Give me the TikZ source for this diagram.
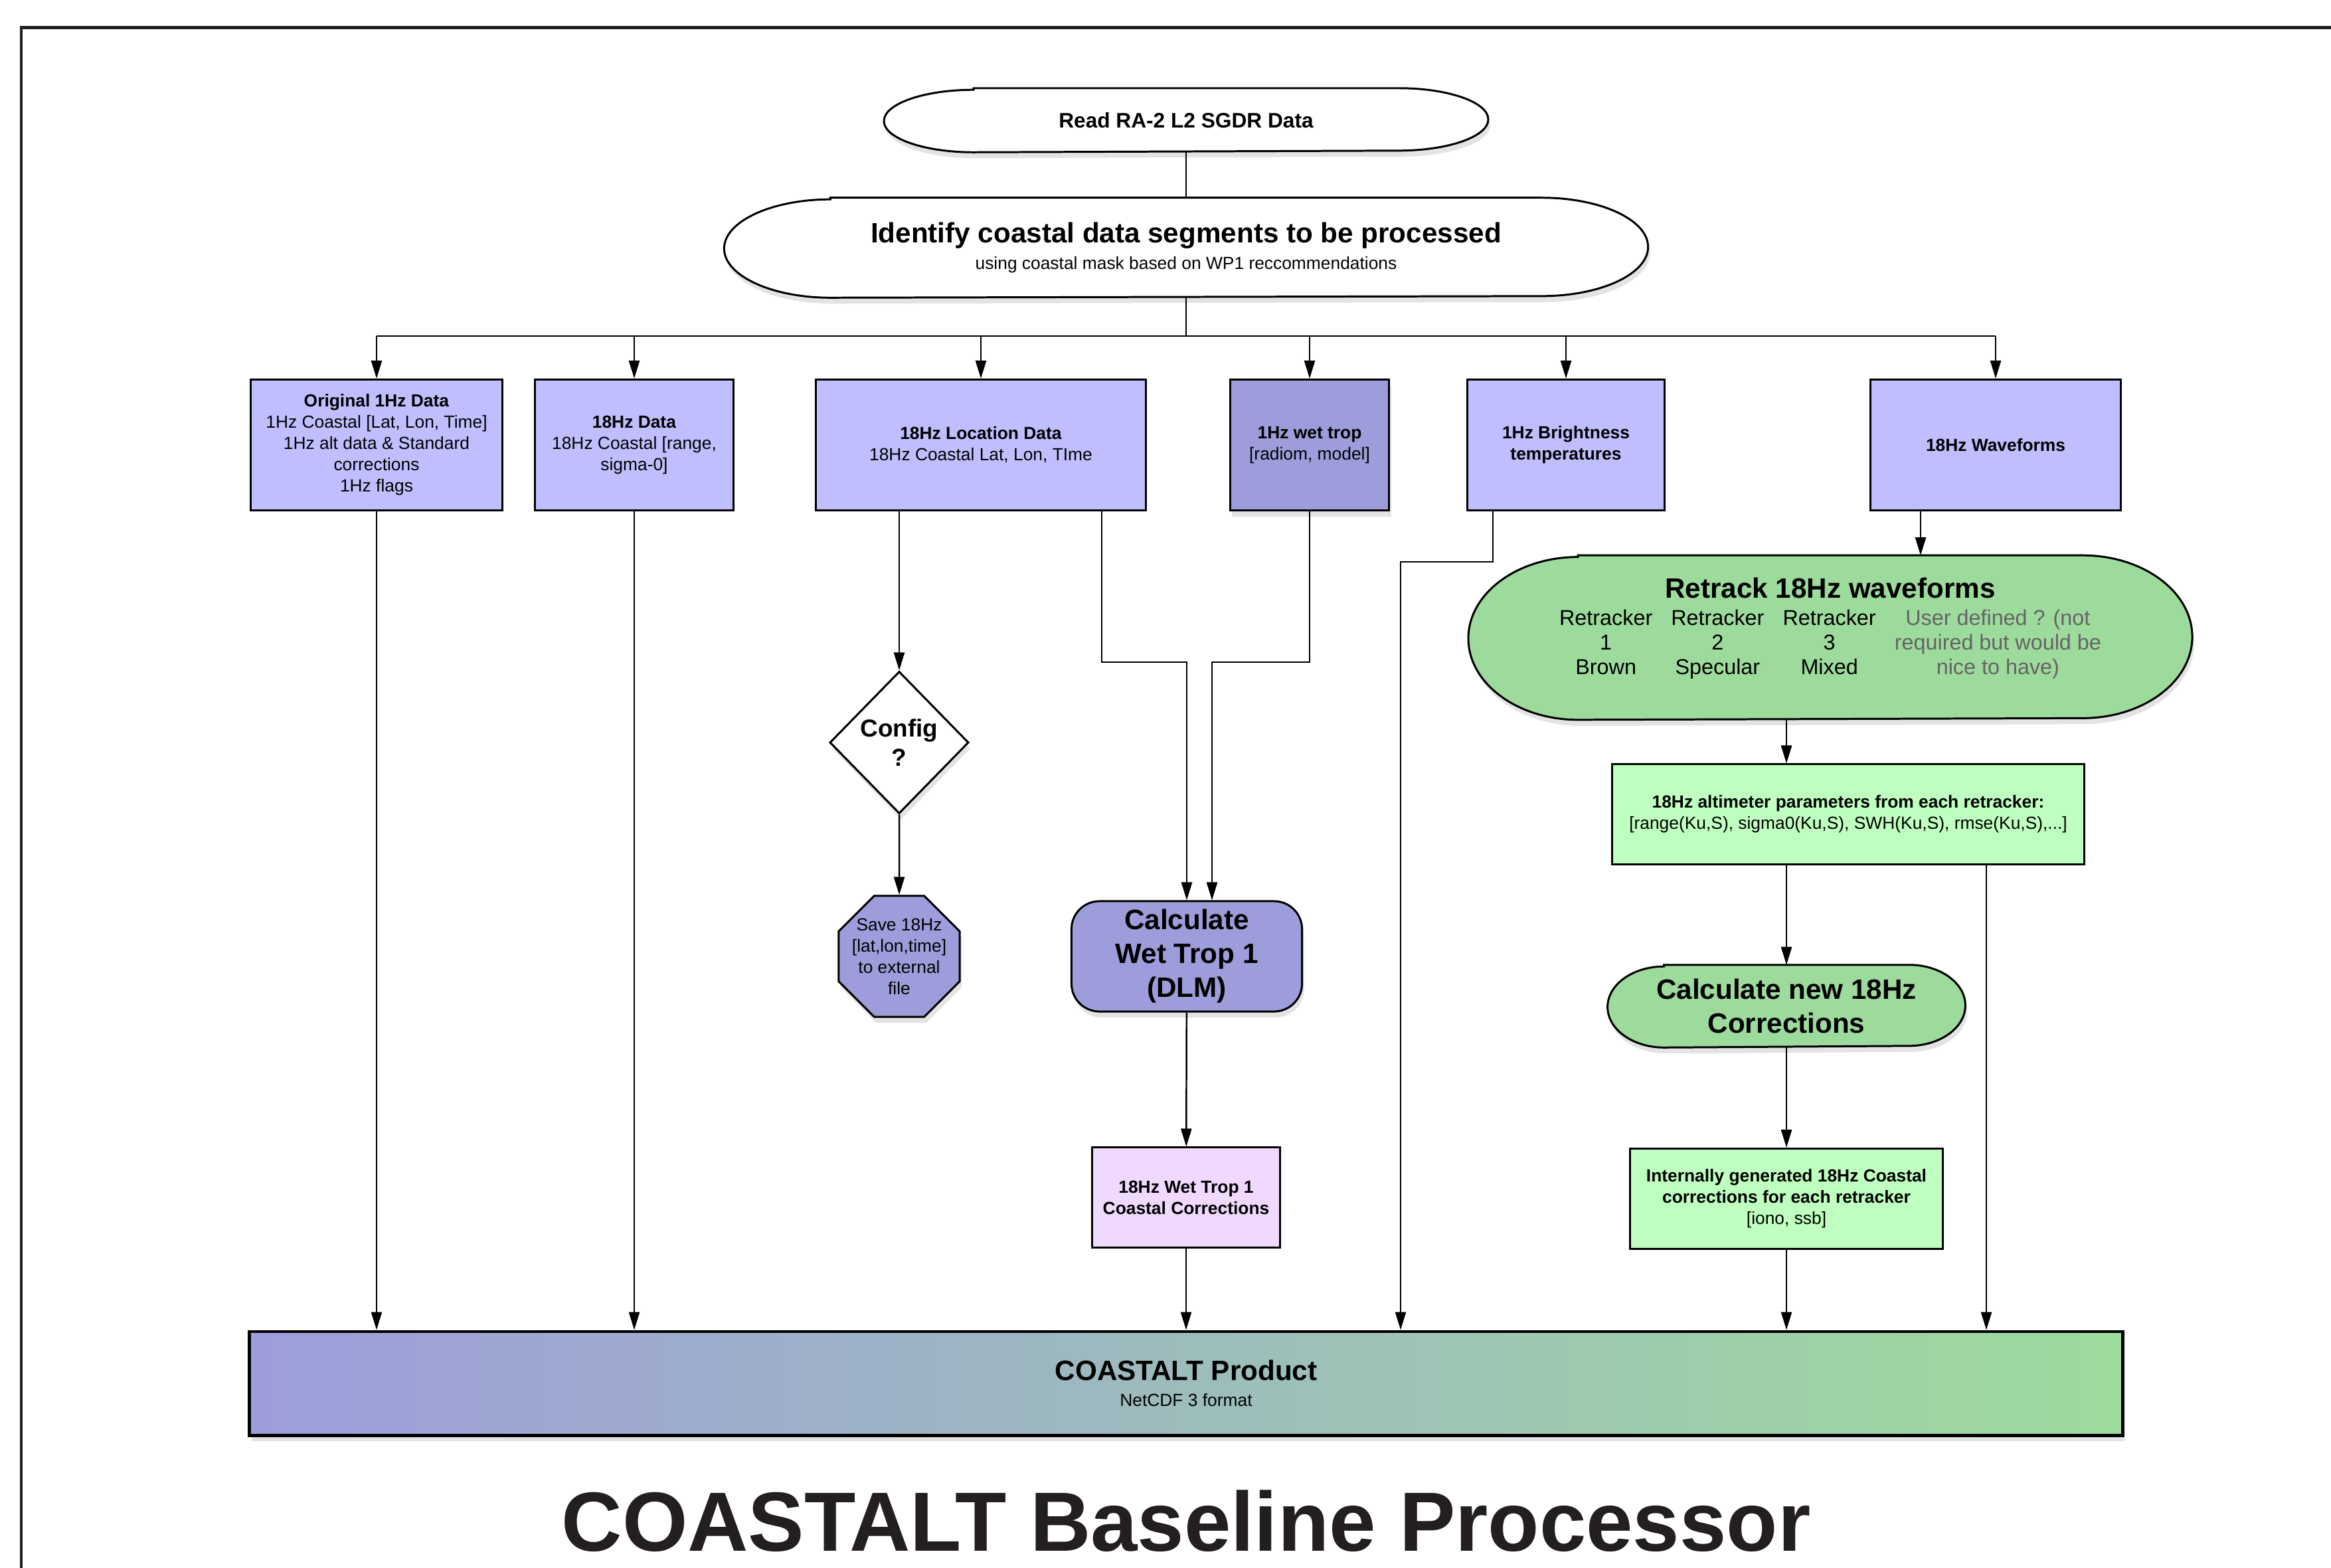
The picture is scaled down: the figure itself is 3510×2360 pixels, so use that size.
\documentclass[tikz,border=0pt]{standalone}
\usepackage{fontspec}
\setmainfont{Liberation Sans}
\usetikzlibrary{positioning}
\usetikzlibrary{shapes.geometric,arrows.meta,shadows,backgrounds}
\definecolor{lav}{RGB}{191,191,255}
\definecolor{pur}{RGB}{157,157,219}
\definecolor{grn}{RGB}{157,219,157}
\definecolor{lgrn}{RGB}{191,255,191}
\definecolor{lpink}{RGB}{240,217,255}
\definecolor{ink}{RGB}{35,31,32}
\definecolor{note}{RGB}{100,100,100}

\begin{document}
\begin{tikzpicture}[x=0.01cm,y=-0.01cm,line width=0.7pt,
  arr/.style={-{Triangle[length=0.27cm,width=0.16cm]}},
  box/.style={draw,line width=0.85pt,fill=lav,align=center,inner sep=0pt,font=\fontsize{7.5}{9.1}\selectfont},
  capnode/.style={align=center,inner sep=0pt},
  shd/.style={drop shadow={shadow xshift=0.03cm,shadow yshift=-0.09cm,opacity=0.22}}]
\useasboundingbox (0,0) rectangle (3510,2360);
% page frame
\draw[ink,line width=1.42pt] (32,2400) -- (32,41) -- (3560,41);

\path
(1786,181) node [capnode,minimum width=9.07cm,minimum height=0.94cm,font=\fontsize{9}{11}\selectfont\bfseries](read) {Read RA-2 L2 SGDR Data}
(1786,373) node [capnode,minimum width=13.88cm,minimum height=1.48cm,font=\fontsize{7.5}{11.2}\selectfont](ident) {{\fontsize{12}{14}\selectfont\bfseries Identify coastal data segments to be processed}\\using coastal mask based on WP1 reccommendations};

\path
(567,670) node [box,minimum width=3.79cm,minimum height=1.97cm](orig) {\textbf{Original 1Hz Data}\\1Hz Coastal [Lat, Lon, Time]\\1Hz alt data \& Standard\\corrections\\1Hz flags}
(955,670) node [box,minimum width=2.98cm,minimum height=1.97cm](hz18) {\textbf{18Hz Data}\\18Hz Coastal [range,\\sigma-0]}
(1477,670) node [box,minimum width=4.97cm,minimum height=1.97cm](loc) {\textbf{18Hz Location Data}\\18Hz Coastal Lat, Lon, TIme}
(1972,670) node [box,fill=pur,shd,minimum width=2.39cm,minimum height=1.97cm](wet) {\textbf{1Hz wet trop}\\{[radiom, model]}}
(2358,670) node [box,minimum width=2.97cm,minimum height=1.97cm](bright) {\textbf{1Hz Brightness}\\\textbf{temperatures}}
(3005,670) node [box,minimum width=3.77cm,minimum height=1.97cm](wave) {\textbf{18Hz Waveforms}};

\path
(1354,1118) node [diamond,draw,line width=0.85pt,fill=white,shd,minimum width=2.09cm,minimum height=2.14cm,inner sep=0pt,align=center,font=\fontsize{10.5}{12.7}\selectfont\bfseries](config) {Config\\?}
(1354,1440) node [regular polygon,regular polygon sides=8,draw,line width=0.85pt,fill=pur,shd,minimum size=1.97cm,inner sep=-4pt,align=center,font=\fontsize{7.5}{9.1}\selectfont](save) {Save 18Hz\\{[lat,lon,time]}\\to external\\file}
(1787,1440) node [box,fill=pur,shd,rounded corners=0.42cm,minimum width=3.47cm,minimum height=1.66cm,font=\fontsize{12}{14.5}\selectfont\bfseries](dlm) {Calculate\\Wet Trop 1\\(DLM)}
(1786,1803) node [box,fill=lpink,minimum width=2.82cm,minimum height=1.5cm,font=\fontsize{7.5}{9.1}\selectfont\bfseries](wtc) {18Hz Wet Trop 1\\Coastal Corrections};

\path
(2756,960) node [capnode,minimum width=10.87cm,minimum height=2.45cm,font=\fontsize{9.2}{11.8}\selectfont](retr) {{\fontsize{12}{14}\selectfont\bfseries Retrack 18Hz waveforms}\\
  {\fontsize{9.2}{10.5}\selectfont\begin{tabular}[t]{@{}c@{\hspace{0.28cm}}c@{\hspace{0.28cm}}c@{\hspace{0.28cm}}c@{}}
  Retracker&Retracker&Retracker&\textcolor{note}{User defined ? (not}\\
  1&2&3&\textcolor{note}{required but would be}\\
  Brown&Specular&Mixed&\textcolor{note}{nice to have)}\\[0.24cm]
  \end{tabular}}}
(2783,1226) node [box,fill=lgrn,minimum width=7.1cm,minimum height=1.5cm](par) {\textbf{18Hz altimeter parameters from each retracker:}\\{[range(Ku,S), sigma0(Ku,S), SWH(Ku,S), rmse(Ku,S),...]}}
(2690,1515) node [capnode,minimum width=5.36cm,minimum height=1.22cm,font=\fontsize{12}{14.5}\selectfont\bfseries](corr) {Calculate new 18Hz\\Corrections}
(2690,1805) node [box,fill=lgrn,minimum width=4.71cm,minimum height=1.51cm](intl) {\textbf{Internally generated 18Hz Coastal}\\\textbf{corrections for each retracker}\\{[iono, ssb]}};

\path
(1786,2083) node [box,line width=1.4pt,left color=pur,right color=grn,shd,minimum width=28.19cm,minimum height=1.56cm,font=\fontsize{7.5}{11.2}\selectfont](prod) {{\fontsize{12}{14}\selectfont\bfseries COASTALT Product}\\NetCDF 3 format}
(1786,2335) node [anchor=base,inner sep=0pt,text=ink,font=\fontsize{36}{40}\selectfont\bfseries](ttl) {COASTALT Baseline Processor};

% capsule outlines behind the text
\begin{scope}[on background layer]
\foreach \nd/\rx/\ry/\col in {read/1.35/0.47/white,ident/1.6/0.74/white,retr/1.65/1.225/grn,corr/0.85/0.61/grn}
  \draw[line width=0.85pt,fill=\col,shd] ([xshift=\rx cm]\nd.north west) -- ([xshift=-\rx cm]\nd.north east)
    arc[start angle=90,end angle=-90,x radius=\rx cm,y radius=\ry cm] -- ([xshift=\rx cm]\nd.south west)
    arc[start angle=270,end angle=90,x radius=\rx cm,y radius=\ry cm] -- cycle;
\end{scope}

\coordinate (bus) at (1786,506);
\coordinate (j1) at (1659,997);
\coordinate (j2) at (1825,997);
\coordinate (j3) at (2248,846);
\coordinate (j4) at (2109,846);
\coordinate (j5) at (2892,760);
\coordinate (j6) at (2991,1300);

\draw (read) -- (ident);
\draw (ident) -- (bus);
\draw (bus -| orig.north) -- (bus -| wave.north);
\foreach \b in {orig,hz18,loc,wet,bright,wave}
  \draw[arr] (bus -| \b.north) -- (\b.north);
\draw[arr] (orig) -- (orig |- prod.north);
\draw[arr] (hz18) -- (hz18 |- prod.north);
\draw[arr] (loc.south -| config) -- (config);
\draw[arr] (config) -- (save);
\draw[arr] (loc.south -| j1) -- (j1) -| (dlm.north);
\draw[arr] (wet.south) |- (j2) -- (j2 |- dlm.north);
\draw[arr] (dlm) -- (wtc);
\draw[arr] (wtc) -- (wtc |- prod.north);
\draw[arr] (bright.south -| j3) -- (j3) -- (j4) -- (j4 |- prod.north);
\draw[arr] (wave.south -| j5) -- (j5 |- retr.north);
\draw[arr] (retr.south -| corr) -- (par.north -| corr);
\draw[arr] (par.south -| corr) -- (corr);
\draw[arr] (corr) -- (intl);
\draw[arr] (intl) -- (intl |- prod.north);
\draw[arr] (par.south -| j6) -- (j6 |- prod.north);

\end{tikzpicture}
\end{document}
